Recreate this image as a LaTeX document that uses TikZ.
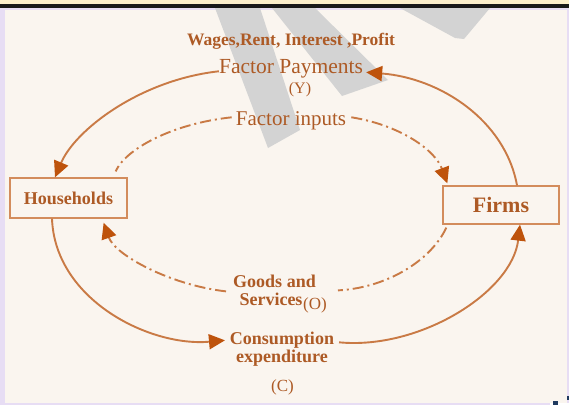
\documentclass[tikz,border=0pt]{standalone}
\usepackage{fontspec}
\setmainfont{Liberation Serif}
\usetikzlibrary{arrows.meta,calc}
\definecolor{panel}{HTML}{FAF5EF}
\definecolor{framecol}{HTML}{E7DDF4}
\definecolor{topband}{HTML}{FCEFCB}
\definecolor{ink}{HTML}{AD5A25}
\definecolor{flow}{HTML}{C97A45}
\definecolor{tipcol}{HTML}{BE530C}
\definecolor{boxline}{HTML}{D38C5C}
\definecolor{wmgray}{HTML}{D3D3D3}
\definecolor{navy}{HTML}{1F3A5F}
\begin{document}
\begin{tikzpicture}[x=1pt,y=-1pt,
  flowline/.style={draw=flow, line width=1.9pt},
  solidflow/.style={flowline, -{Triangle[length=16pt,width=15pt,color=tipcol]}},
  dotflow/.style={flowline, dash pattern=on 11pt off 4pt on 2pt off 4pt},
  dotflowtip/.style={dotflow, -{Triangle[length=16pt,width=15pt,color=tipcol]}},
  agent/.style={draw=boxline, line width=1.3pt, fill=panel, text=ink, font=\bfseries},
  lbl/.style={text=ink, inner sep=1pt, anchor=base},
]
% page background, top band and panel
\fill[framecol] (0,0) rectangle (569,405);
\fill[topband] (0,0) rectangle (569,4);
\fill[black!90] (0,4) rectangle (569,7.5);
\fill[panel] (5,10) rectangle (567,403);
\fill[white] (550,403) rectangle (569,405);
\fill[navy] (553,401) rectangle (557.5,405);
\fill[navy] (567,396) rectangle (569,399.5);

% grey lettering behind the chart
\fill[wmgray] (215,8) -- (260,8) -- (300,130) -- (268,148) -- cycle;
\fill[wmgray] (272,8) -- (315,8) -- (388,80) -- (342,96) -- cycle;
\fill[wmgray] (400,8) -- (490,8) -- (464,39) -- (455,38) -- cycle;

% sectors
\node[agent, minimum width=117pt, minimum height=40pt, font=\bfseries\fontsize{18}{20}\selectfont] (hh) at (68.5,198) {Households};
\node[agent, minimum width=116pt, minimum height=38pt, font=\bfseries\fontsize{22}{24}\selectfont] (firms) at (501,205) {Firms};

% labels
\node[lbl, font=\bfseries\fontsize{17.5}{19}\selectfont] (wages) at (291,45) {Wages,Rent, Interest ,Profit};
\node[lbl, font=\fontsize{21.5}{23}\selectfont] (pay) at (291,73) {Factor Payments};
\node[lbl, font=\fontsize{16}{18}\selectfont] (ylab) at (300,93) {(Y)};
\node[lbl, font=\fontsize{21}{23}\selectfont] (inputs) at (291,125) {Factor inputs};
\node[lbl, font=\bfseries\fontsize{18}{20}\selectfont] (goods) at (274.5,287) {Goods and};
\node[lbl, font=\bfseries\fontsize{18}{20}\selectfont] (serv) at (271,305) {Services};
\node[lbl, font=\fontsize{17}{19}\selectfont] (olab) at (315,309) {(O)};
\node[lbl, font=\bfseries\fontsize{18}{20}\selectfont] (cons) at (282,344) {Consumption};
\node[lbl, font=\bfseries\fontsize{18}{20}\selectfont] (expd) at (282,362) {expenditure};
\node[lbl, font=\fontsize{17}{19}\selectfont] (clab) at (282.5,391) {(C)};

% money flows (outer loop)
\draw[solidflow] ($(pay.west)+(1,3)$) .. controls (140,80) and (75,130) .. ($(hh.north)+(-13.5,0)$);
\draw[solidflow] ($(hh.south)+(-16.5,0)$) .. controls (55,300) and (150,347) .. ($(expd.north west)+(-10,-8)$);
\draw[solidflow] ($(expd.north east)+(10,-6)$) .. controls (420,350) and (512,292) .. ($(firms.south)+(19,0)$);
\draw[solidflow] ($(firms.north)+(16,0)$) .. controls (505,120) and (440,78) .. ($(pay.east)+(2,4)$);

% real flows (inner loop)
\draw[dotflow] ($(inputs.west)+(-3,-3)$) .. controls (170,124) and (125,150) .. ($(hh.north east)+(-12,-6)$);
\draw[dotflowtip] ($(inputs.east)+(4,-3)$) .. controls (400,125) and (435,150) .. ($(firms.north west)+(5,-2)$);
\draw[dotflowtip] ($(goods.south west)+(-6,3)$) .. controls (170,285) and (115,255) .. ($(hh.south east)+(-24,4)$);
\draw[dotflow] ($(firms.south west)+(4,3)$) .. controls (430,262) and (385,288) .. ($(goods.south east)+(21,2)$);
\end{tikzpicture}
\end{document}
